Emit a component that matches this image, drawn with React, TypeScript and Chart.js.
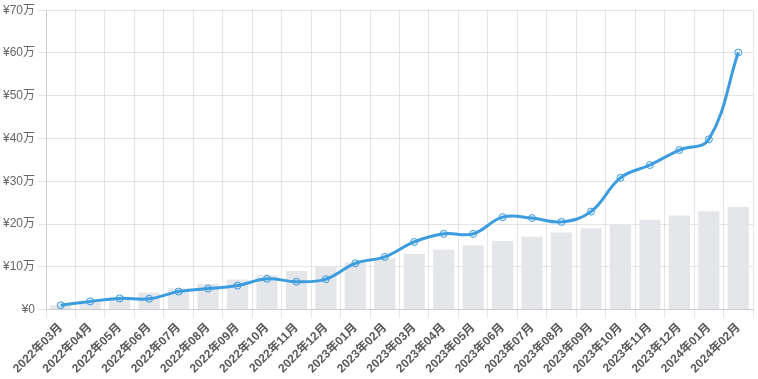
import React, { useEffect, useRef } from "react";
import { Chart, registerables } from "chart.js";

Chart.register(...registerables);

const labels = [
  "2022年03月", "2022年04月", "2022年05月", "2022年06月", "2022年07月", "2022年08月",
  "2022年09月", "2022年10月", "2022年11月", "2022年12月", "2023年01月", "2023年02月",
  "2023年03月", "2023年04月", "2023年05月", "2023年06月", "2023年07月", "2023年08月",
  "2023年09月", "2023年10月", "2023年11月", "2023年12月", "2024年01月", "2024年02月",
];

// values in 万円
const assetValues = [
  1.0, 1.9, 2.6, 2.5, 4.2, 4.9, 5.6, 7.2, 6.5, 7.1, 10.8, 12.3,
  15.8, 17.7, 17.7, 21.6, 21.4, 20.5, 22.9, 30.8, 33.8, 37.3, 39.8, 60.1,
];

const investedValues = [
  1, 2, 3, 4, 5, 6, 7, 8, 9, 10, 11, 12,
  13, 14, 15, 16, 17, 18, 19, 20, 21, 22, 23, 24,
];

const yMax = 70;
const yStep = 10;

export default function App() {
  const ref = useRef<HTMLCanvasElement | null>(null);

  useEffect(() => {
    document.body.style.margin = "0";
    const canvas = ref.current;
    if (!canvas) return;
    Chart.defaults.font.family =
      "'Helvetica Neue', Helvetica, Arial, 'Liberation Sans', 'Noto Sans CJK JP', sans-serif";
    Chart.defaults.font.size = 12;
    Chart.defaults.color = "#666";

    const chart = new Chart(canvas, {
      type: "bar",
      data: {
        labels,
        datasets: [
          {
            type: "line",
            label: "評価額",
            data: assetValues,
            borderColor: "rgb(60, 156, 224)",
            backgroundColor: "rgba(60, 156, 224, 0.15)",
            pointBackgroundColor: "rgba(60, 156, 224, 0.12)",
            pointBorderColor: "rgb(60, 156, 224)",
            pointBorderWidth: 1,
            pointRadius: 3.5,
            borderWidth: 3,
            tension: 0.4,
            fill: false,
            order: 0,
          } as any,
          {
            type: "bar",
            label: "投資額",
            data: investedValues,
            backgroundColor: "rgba(229, 230, 234, 1)",
            order: 1,
          },
        ],
      },
      options: {
        responsive: false,
        animation: false,
        layout: { padding: { top: 4, right: 4 } },
        plugins: {
          legend: { display: false },
          tooltip: { enabled: false },
        },
        scales: {
          x: {
            grid: { color: "rgba(0,0,0,0.1)" },
            ticks: {
              maxRotation: 45,
              minRotation: 45,
              autoSkip: false,
              color: "#5a5a5a",
              font: { weight: "bold" },
            },
          },
          y: {
            min: 0,
            max: yMax,
            grid: { color: "rgba(0,0,0,0.1)" },
            ticks: {
              stepSize: yStep,
              callback: (v: any) => (v === 0 ? "¥0" : `¥${v}万`),
            },
          },
        },
      },
    });
    return () => chart.destroy();
  }, []);

  return (
    <div style={{ width: 758, height: 379 }}>
      <canvas ref={ref} width={758} height={379} />
    </div>
  );
}
